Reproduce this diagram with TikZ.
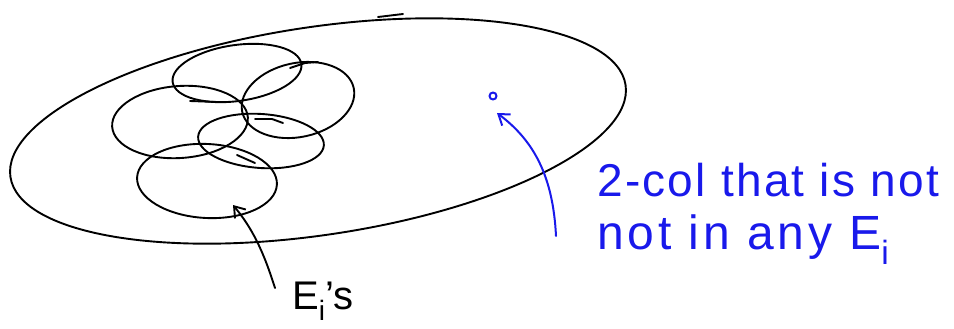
\documentclass[tikz,border=0pt]{standalone}
\usepackage{fontspec}
\setmainfont{Liberation Sans}
\usetikzlibrary{arrows.meta}
\definecolor{penblue}{RGB}{25,25,235}
\begin{document}
\begin{tikzpicture}[x=1pt,y=-1pt, line cap=round, line join=round,
  pen/.style={line width=1.9pt, black},
  bluepen/.style={line width=2pt, penblue},
  handtext/.style={font=\fontsize{46}{52}\selectfont\addfontfeature{LetterSpace=5}, inner sep=0pt, anchor=base west},
  headtip/.style={-{Straight Barb[length=10pt,width=14pt]}}]
\useasboundingbox (0,0) rectangle (954,329);
% big region
\draw[pen, rotate around={8.5:(318,131)}] (318,131) ellipse [x radius=311pt, y radius=104pt];
\draw[pen] (378,17) -- (403,14);
% the sets E_i
\draw[pen, rotate around={8:(237,73)}] (237,73) ellipse [x radius=65pt, y radius=28pt];
\draw[pen, rotate around={12:(298,100)}] (298,100) ellipse [x radius=57pt, y radius=37pt];
\draw[pen, rotate around={4:(180,122)}] (180,122) ellipse [x radius=68pt, y radius=36pt];
\draw[pen, rotate around={-4:(261,141)}] (261,141) ellipse [x radius=63pt, y radius=27pt];
\draw[pen, rotate around={-3:(207,181)}] (207,181) ellipse [x radius=70pt, y radius=37pt];
% pen overlaps
\draw[pen] (190,101) -- (217,102);
\draw[pen] (255,119) -- (272,119) -- (283,123);
\draw[pen] (290,68) -- (305,63) -- (318,62);
\draw[pen] (237,155) -- (255,163);
% point outside all E_i
\node[circle, draw=penblue, line width=2pt, minimum size=7pt, inner sep=0pt] (pt) at (493,96) {};
% labels
\node[handtext, text=black, font=\fontsize{40}{46}\selectfont] (Es) at (292,309) {E\textsubscript{i}'s};
\node[handtext, text=penblue] (l1) at (597,196) {2-col that is not};
\node[handtext, text=penblue, font=\fontsize{48}{52}\selectfont\addfontfeature{LetterSpace=8}] (l2) at (597,249) {not in any E\textsubscript{i}};
% connectors
\coordinate (etail) at (275,288);
\coordinate (etip) at (233,205);
\draw[pen, headtip] (etail) .. controls (263,250) and (252,228) .. (etip);
\coordinate (btail) at (556,236);
\coordinate (btip) at (497,113);
\draw[bluepen, headtip] (btail) .. controls (553,175) and (533,140) .. (btip);
\end{tikzpicture}
\end{document}
